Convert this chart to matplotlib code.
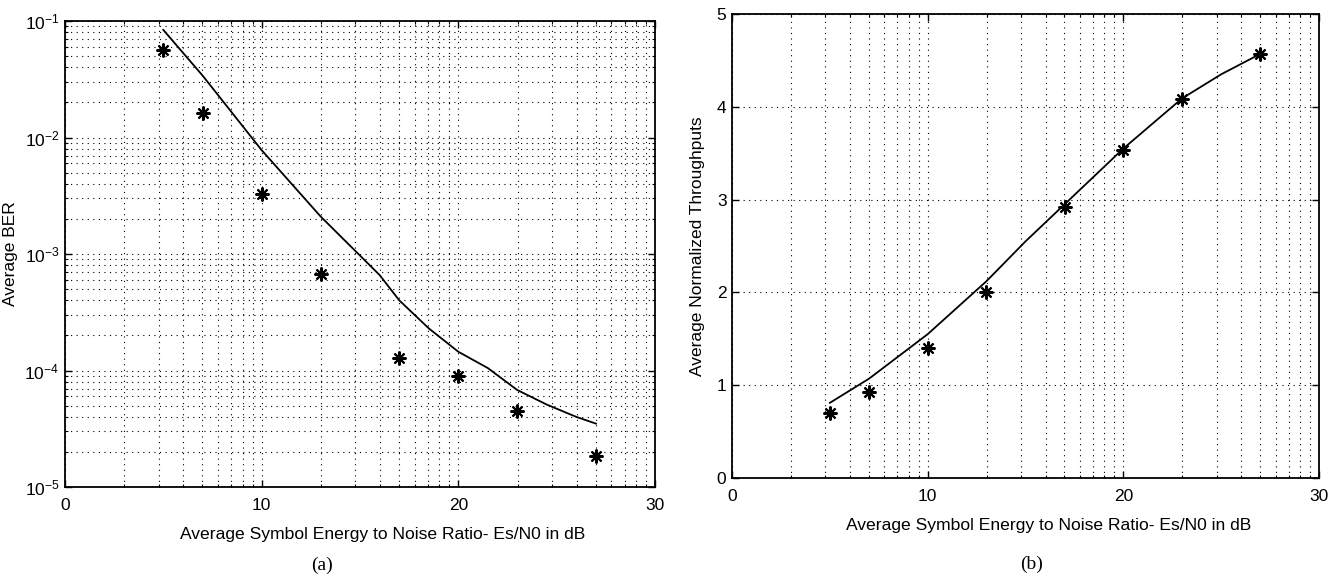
import numpy as np
import matplotlib
matplotlib.use('Agg')
import matplotlib.pyplot as plt
from matplotlib.ticker import FixedLocator, LogLocator, NullFormatter

plt.rcParams['font.family'] = ['Liberation Sans', 'DejaVu Sans']
plt.rcParams['mathtext.fontset'] = 'custom'
plt.rcParams['mathtext.rm'] = 'Liberation Sans'
plt.rcParams['mathtext.default'] = 'regular'

# (a) average BER vs Es/N0
snr_pts = [5, 7, 10, 13, 17, 20, 23, 27]
ber_pts = [0.056, 0.0162, 0.0033, 0.00067, 0.000128, 0.00009, 0.000045, 0.0000185]
snr_line_a = [5, 7, 10, 13, 16, 17, 18.5, 20, 21.5, 23, 24.5, 26, 27]
ber_line = [0.084, 0.034, 0.0078, 0.0021, 0.00066, 0.0004, 0.00023, 0.000145,
            0.000105, 0.000068, 0.000051, 0.00004, 0.000035]

# (b) average normalized throughput vs Es/N0
thr_pts = [0.70, 0.93, 1.40, 2.0, 2.92, 3.53, 4.08, 4.57]
snr_line_b = [5, 7, 10, 13, 15, 17, 20, 23, 25, 27]
thr_line = [0.81, 1.07, 1.55, 2.12, 2.55, 2.95, 3.55, 4.09, 4.35, 4.57]

xlabel = 'Average Symbol Energy to Noise Ratio- Es/N0 in dB'

# MATLAB-style x grid: log spacing repeated inside each 10 dB span
xgrid = sorted(set([d * 10 + 10 * np.log10(k) for d in range(3) for k in range(1, 10)] + [30]))

fig = plt.figure(figsize=(13.31, 5.75), dpi=100)
ax1 = fig.add_axes([0.0488, 0.1530, 0.4433, 0.8104])
ax2 = fig.add_axes([0.5500, 0.1687, 0.4410, 0.8070])

star = dict(marker=(8, 2, 0), markersize=10, mew=1.5, color='black', linestyle='none')

ax1.semilogy(snr_line_a, ber_line, color='black', lw=1.3)
ax1.semilogy(snr_pts, ber_pts, **star)
ax1.set_xlim(0, 30)
ax1.set_ylim(1e-5, 1e-1)
ax1.yaxis.set_major_locator(LogLocator(base=10, numticks=10))
ax1.yaxis.set_minor_locator(LogLocator(base=10, subs=np.arange(2, 10), numticks=20))
ax1.yaxis.set_minor_formatter(NullFormatter())

ax2.plot(snr_line_b, thr_line, color='black', lw=1.3)
ax2.plot(snr_pts, thr_pts, **star)
ax2.set_xlim(0, 30)
ax2.set_ylim(0, 5)
ax2.set_yticks([0, 1, 2, 3, 4, 5])

for ax in (ax1, ax2):
    ax.set_xticks([0, 10, 20, 30])
    ax.xaxis.set_minor_locator(FixedLocator(xgrid))
    ax.tick_params(which='both', direction='in', top=True, right=True, labelsize=12.5)
    ax.tick_params(axis='x', pad=8)
    ax.tick_params(axis='y', pad=4)
    ax.tick_params(which='major', length=5, width=1)
    ax.tick_params(which='minor', length=2.5, width=0.8)
    ax.grid(True, which='both', linestyle=(0, (1, 4)), color='black', lw=0.8)
    for s in ax.spines.values():
        s.set_linewidth(1.3)
    ax.set_xlabel(xlabel, fontsize=12.6)
    ax.xaxis.set_label_coords(0.539, -0.086)

ax1.set_ylabel('Average BER', fontsize=12.5)
ax1.yaxis.set_label_coords(-0.080, 0.5)
ax2.set_ylabel('Average Normalized Throughputs', fontsize=12.5)
ax2.yaxis.set_label_coords(-0.046, 0.5)

fig.text(322 / 1331, 1 - 565 / 575, '(a)', family=['Liberation Serif'], fontsize=14, ha='center', va='center')
fig.text(1032 / 1331, 1 - 564 / 575, '(b)', family=['Liberation Serif'], fontsize=14, ha='center', va='center')

fig.savefig('out.png', dpi=100)
